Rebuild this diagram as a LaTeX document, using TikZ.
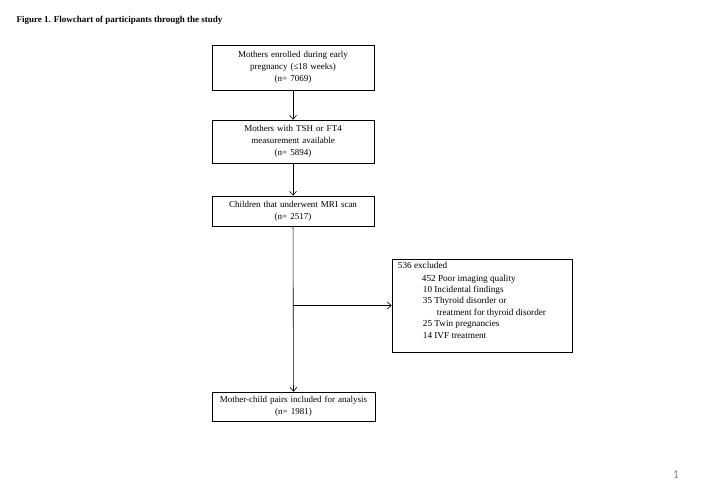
\documentclass[tikz,border=0pt]{standalone}
\usepackage{fontspec}
\setmainfont{Liberation Serif}
\newfontfamily\pagefont{Carlito}
\usetikzlibrary{arrows.meta}
\tikzset{
  flowbox/.style={draw, line width=0.6pt, inner sep=0pt, text width=#1, align=center,
    font=\fontsize{9}{12}\selectfont},
  flowbox/.default=162pt,
  flowarrow/.style={line width=0.6pt, -{Straight Barb[length=4pt,width=7pt]}}
}
\begin{document}
\begin{tikzpicture}[x=1pt,y=-1pt]
\useasboundingbox (0,0) rectangle (720,498);
\node[anchor=base west, font=\fontsize{9}{10}\selectfont\bfseries] (title) at (13,22)
  {Figure 1. Flowchart of participants through the study};
\node[flowbox, minimum height=45pt] (enrolled) at (293,67.5)
  {Mothers enrolled during early\\ pregnancy (≤18 weeks)\\ (n= 7069)};
\node[flowbox, minimum height=43pt] (thyroid) at (293,141.5)
  {Mothers with TSH or FT4\\ measurement available\\ (n= 5894)};
\node[flowbox, minimum height=30pt] (mri) at (293,211)
  {Children that underwent MRI scan\\ (n= 2517)};
\node[flowbox=163pt, minimum height=29pt] (pairs) at (293.5,406.5)
  {Mother-child pairs included for analysis\\ (n= 1981)};
\node[draw, line width=0.6pt, minimum width=180pt, minimum height=93pt, inner sep=0pt]
  (excl) at (482,305.5) {};
\node[anchor=north west, inner sep=0pt, align=left, font=\fontsize{9.2}{11.4}\selectfont]
  (excltext) at ([xshift=6pt,yshift=-3pt]excl.north west)
  {536 excluded\\[1.5pt]
   \hspace*{24pt}452 Poor imaging quality\\
   \hspace*{25pt}10 Incidental findings\\
   \hspace*{25pt}35 Thyroid disorder or\\
   \hspace*{39pt}treatment for thyroid disorder\\
   \hspace*{25pt}25 Twin pregnancies\\
   \hspace*{25pt}14 IVF treatment};
\coordinate (branch) at (mri.south |- excl.west);
\draw[flowarrow] (enrolled) -- (thyroid);
\draw[flowarrow] (thyroid) -- (mri);
\draw[flowarrow] (mri) -- (pairs);
\draw[flowarrow] (branch) -- (excl.west);
\node[anchor=base, text=black!45, font=\pagefont\fontsize{12}{13}\selectfont] (pagenum) at (676,478) {1};
\end{tikzpicture}
\end{document}
